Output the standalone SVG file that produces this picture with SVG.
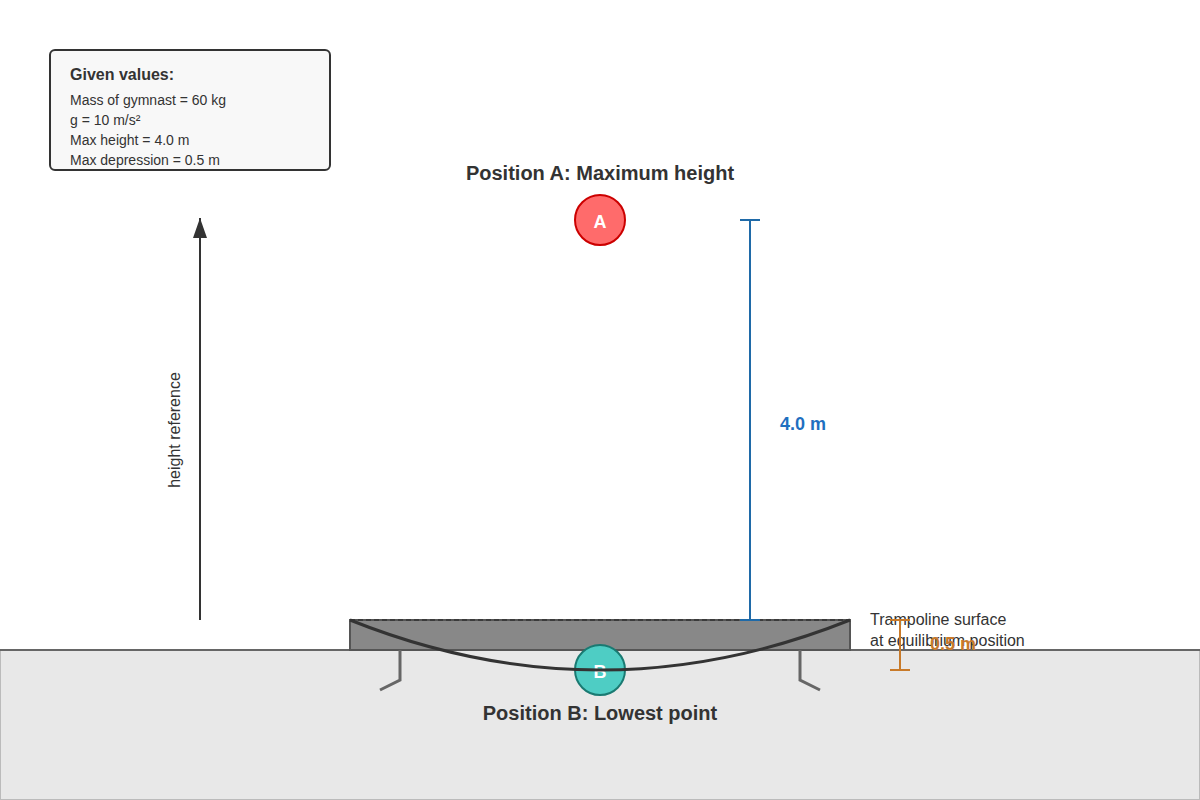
<svg xmlns="http://www.w3.org/2000/svg" width="1200" height="800" viewBox="0 0 1200 800">
  <defs>
    <marker id="arrow" markerWidth="20" markerHeight="14" refX="20" refY="7" orient="auto" markerUnits="userSpaceOnUse" viewBox="0 0 20 14">
      <path d="M0,0 L20,7 L0,14 z" fill="#333"/>
    </marker>
    <style>
      text { font-family: "Liberation Sans", Arial, sans-serif; }
      .title { font-size: 20px; font-weight: bold; fill: #333; text-anchor: middle; }
      .body { font-size: 14px; fill: #333; }
      .label { font-size: 16px; fill: #333; }
      .circ-label { font-size: 18px; font-weight: bold; fill: #fff; text-anchor: middle; }
      .leg { stroke: #666; stroke-width: 3; fill: none; }
      .blue { stroke: #1f6aa8; stroke-width: 2; fill: none; }
      .orange { stroke: #c87a2a; stroke-width: 2; fill: none; }
    </style>
  </defs>
  <rect width="1200" height="800" fill="#fff"/>

  <g id="ground">
    <rect x="0" y="650" width="1200" height="150" fill="#e8e8e8" stroke="#bbb" stroke-width="2"/>
    <line x1="0" y1="650" x2="1200" y2="650" stroke="#666" stroke-width="2"/>
  </g>

  <g id="given-values">
    <rect x="50" y="50" width="280" height="120" rx="5" fill="#f8f8f8" stroke="#333" stroke-width="2"/>
    <text x="70" y="80" font-size="16" font-weight="bold" fill="#333">Given values:</text>
    <text x="70" y="105" class="body">Mass of gymnast = 60 kg</text>
    <text x="70" y="125" class="body">g = 10 m/s²</text>
    <text x="70" y="145" class="body">Max height = 4.0 m</text>
    <text x="70" y="165" class="body">Max depression = 0.5 m</text>
  </g>

  <g id="trampoline">
    <rect x="350" y="620" width="500" height="30" fill="#888" stroke="#555" stroke-width="2"/>
    <line x1="350" y1="620" x2="850" y2="620" stroke="#333" stroke-width="1.5" stroke-dasharray="5,3"/>
    <polyline class="leg" points="400,650 400,680 380,690"/>
    <polyline class="leg" points="800,650 800,680 820,690"/>
    <text x="870" y="625" class="label">Trampoline surface</text>
    <text x="870" y="646" class="label">at equilibrium position</text>
  </g>

  <g id="position-a">
    <text x="600" y="180" class="title">Position A: Maximum height</text>
    <circle cx="600" cy="220" r="25" fill="#ff6b6b" stroke="#cc0000" stroke-width="2"/>
    <text x="600" y="228" class="circ-label">A</text>
  </g>

  <g id="position-b">
    <circle cx="600" cy="670" r="25" fill="#4ecdc4" stroke="#1a7a72" stroke-width="2"/>
    <text x="600" y="678" class="circ-label">B</text>
    <text x="600" y="720" class="title">Position B: Lowest point</text>
  </g>

  <g id="connectors">
    <path d="M350,620 Q600,720 850,620" fill="none" stroke="#333" stroke-width="3"/>
    <line x1="200" y1="620" x2="200" y2="218" stroke="#333" stroke-width="2" marker-end="url(#arrow)"/>
    <line x1="750" y1="220" x2="750" y2="620" class="blue"/>
    <line x1="740" y1="220" x2="760" y2="220" class="blue"/>
    <line x1="740" y1="620" x2="760" y2="620" class="blue"/>
    <line x1="900" y1="620" x2="900" y2="670" class="orange"/>
    <line x1="890" y1="620" x2="910" y2="620" class="orange"/>
    <line x1="890" y1="670" x2="910" y2="670" class="orange"/>
  </g>

  <g id="labels">
    <text x="180" y="430" class="label" text-anchor="middle" transform="rotate(-90 180 430)">height reference</text>
    <text x="780" y="430" font-size="18" font-weight="bold" fill="#1f6fc0">4.0 m</text>
    <text x="930" y="650" font-size="18" font-weight="bold" fill="#c87a2a">0.5 m</text>
  </g>
</svg>
